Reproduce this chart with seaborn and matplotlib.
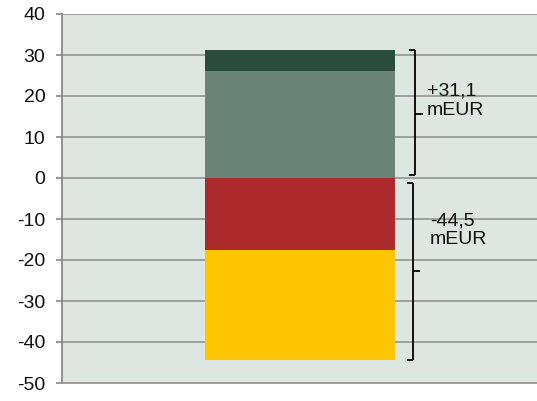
import matplotlib
matplotlib.use("Agg")
import matplotlib.pyplot as plt
import seaborn as sns
import pandas as pd

# Data
category = ["Total"]
pos_lower = [26.0]      # grey-green segment
pos_upper = [5.1]       # dark green segment (26 -> 31.1)
neg_upper = [-17.5]     # red segment
neg_lower = [-27.0]     # yellow segment (-17.5 -> -44.5)
pos_label = "+31,1\nmEUR"
neg_label = "-44,5\nmEUR"
yticks = [-50, -40, -30, -20, -10, 0, 10, 20, 30, 40]

c_dark = "#2a4d3e"
c_grey = "#6a8477"
c_red = "#ad2a2c"
c_yellow = "#ffc600"
c_bg = "#dde6e1"

sns.set_theme(style="white")
plt.rcParams["font.family"] = ["Liberation Sans", "DejaVu Sans"]
plt.rcParams["axes.unicode_minus"] = False

fig = plt.figure(figsize=(5.37, 4.01), dpi=100)
ax = fig.add_axes([62/537, 1-383/401, 1-62/537, (383-14)/401])
ax.set_facecolor(c_bg)

pos_total = [a + b for a, b in zip(pos_lower, pos_upper)]
neg_total = [a + b for a, b in zip(neg_upper, neg_lower)]

# cumulative overlay stacking
sns.barplot(x=category, y=pos_total, color=c_dark, width=0.8, ax=ax, zorder=3,
            saturation=1, linewidth=0)
sns.barplot(x=category, y=pos_lower, color=c_grey, width=0.8, ax=ax, zorder=3,
            saturation=1, linewidth=0)
sns.barplot(x=category, y=neg_total, color=c_yellow, width=0.8, ax=ax, zorder=3,
            saturation=1, linewidth=0)
sns.barplot(x=category, y=neg_upper, color=c_red, width=0.8, ax=ax, zorder=3,
            saturation=1, linewidth=0)

ax.set_xlim(-1.0, 1.0)
ax.set_ylim(-50, 40)
ax.set_yticks(yticks)
ax.set_yticklabels([str(t) for t in yticks], fontsize=14, color="#111111")
ax.set_xticks([])
ax.set_xlabel("")
ax.set_ylabel("")
ax.yaxis.grid(True, color="#999999", linewidth=1.3, zorder=1)
ax.set_axisbelow(True)
ax.tick_params(axis="y", length=4, width=1.2, color="#888888", pad=8, left=True)
for s in ["top", "right"]:
    ax.spines[s].set_visible(False)
ax.spines["left"].set_color("#888888")
ax.spines["left"].set_linewidth(1.3)
ax.spines["bottom"].set_color("#999999")
ax.spines["bottom"].set_linewidth(1.3)

def bracket(xv, y0, y1, ymid, xs, xt):
    kw = dict(color="black", linewidth=1.3, zorder=5, solid_capstyle="butt")
    ax.plot([xv, xv], [y0, y1], **kw)
    ax.plot([xs, xv], [y0, y0], **kw)
    ax.plot([xs, xv], [y1, y1], **kw)
    ax.plot([xv, xt], [ymid, ymid], **kw)

bracket(0.486, pos_total[0], 0.7, 15.7, 0.462, 0.518)
bracket(0.478, -1.2, neg_total[0], -22.6, 0.453, 0.507)

ax.text(0.535, 18.8, pos_label, fontsize=14, va="center", ha="left",
        linespacing=1.15, color="#111111", zorder=6)
ax.text(0.548, -12.7, neg_label, fontsize=14, va="center", ha="left",
        linespacing=1.15, color="#111111", zorder=6)

fig.savefig("out.png", dpi=100)
